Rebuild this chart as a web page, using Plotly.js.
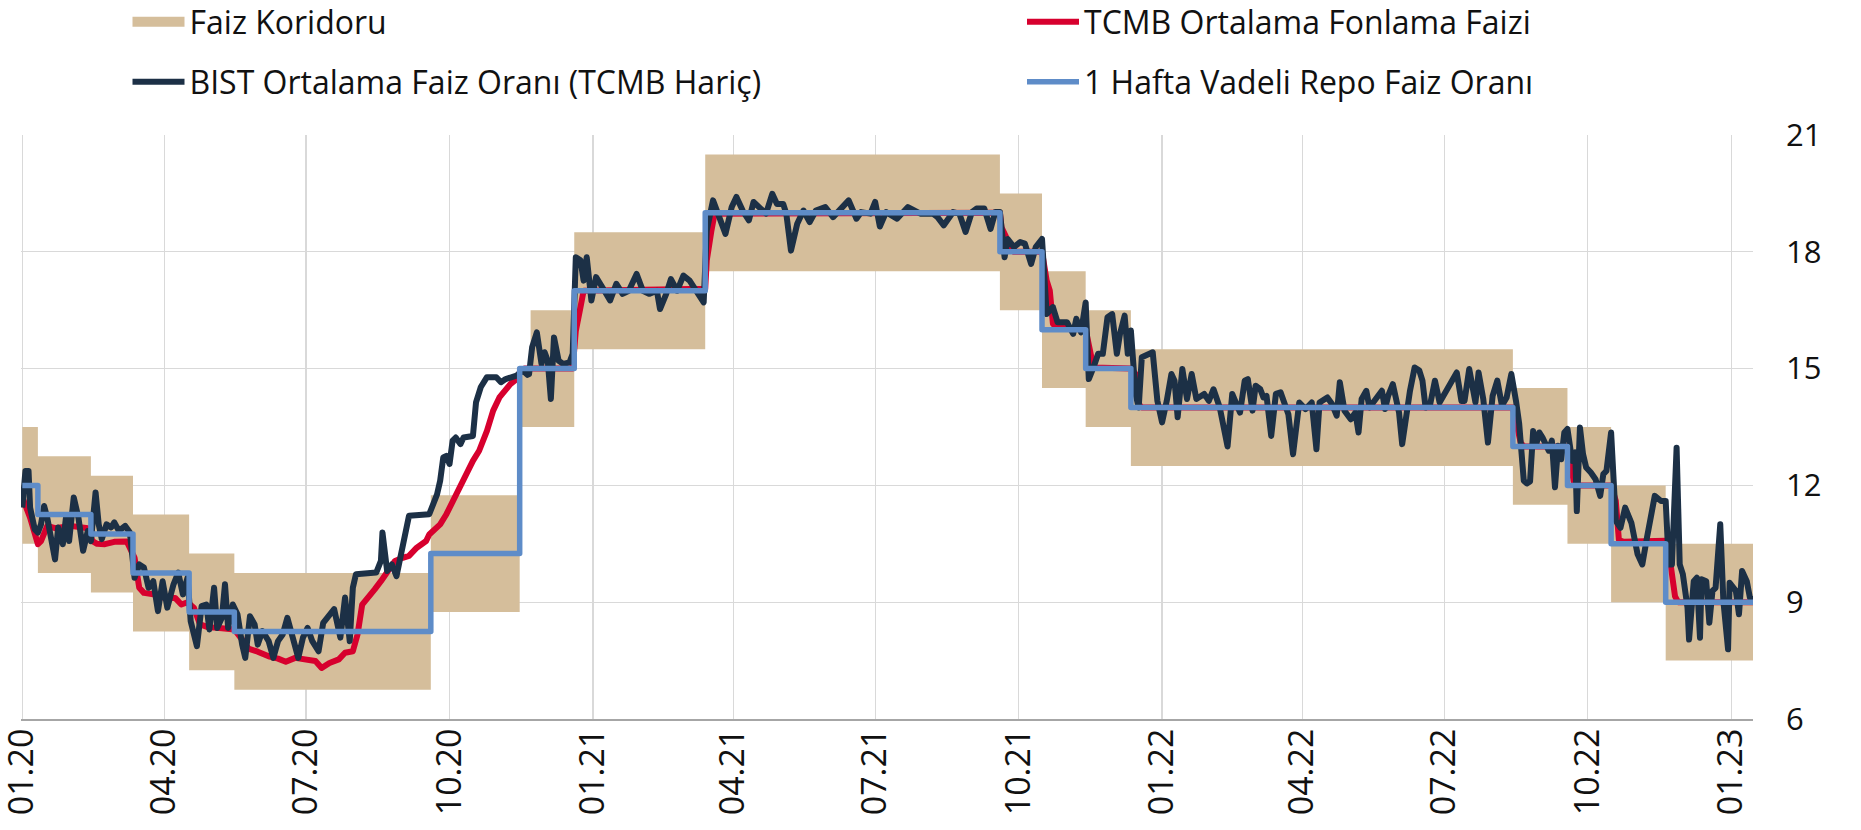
<!DOCTYPE html>
<html>
<head>
<meta charset="utf-8">
<script src="https://cdn.plot.ly/plotly-3.0.1.min.js"></script>
<style>
html,body{margin:0;padding:0;background:#fff;}
#chart{width:1861px;height:830px;}
.scatterlayer path.js-line{stroke-linejoin:round;}
</style>
</head>
<body>
<div id="chart"></div>
<script>
// ---------- DATA ----------
const seriesNames = ['Faiz Koridoru', 'TCMB Ortalama Fonlama Faizi', 'BIST Ortalama Faiz Oranı (TCMB Hariç)', '1 Hafta Vadeli Repo Faiz Oranı'];

const corridorDates = ['2020-01-01','2020-01-11','2020-02-14','2020-03-12','2020-04-17','2020-05-16','2020-09-19','2020-11-15','2020-11-22','2020-12-20','2021-03-14','2021-09-19','2021-10-16','2021-11-13','2021-12-12','2022-08-14','2022-09-18','2022-10-16','2022-11-20','2023-01-15'];
const corridorLow  = [10.5, 9.75, 9.25, 8.25, 7.25, 6.75, 8.75, 13.5, 13.5, 15.5, 17.5, 16.5, 14.5, 13.5, 12.5, 11.5, 10.5, 9, 7.5, 7.5];
const corridorHigh = [13.5, 12.75, 12.25, 11.25, 10.25, 9.75, 11.75, 15, 16.5, 18.5, 20.5, 19.5, 17.5, 16.5, 15.5, 14.5, 13.5, 12, 10.5, 10.5];

const policyDates = ['2020-01-01','2020-01-11','2020-02-14','2020-03-12','2020-04-17','2020-05-16','2020-09-19','2020-11-15','2020-12-20','2021-03-14','2021-09-19','2021-10-16','2021-11-13','2021-12-12','2022-08-14','2022-09-18','2022-10-16','2022-11-20','2023-01-15'];
const policyRate  = [12, 11.25, 10.75, 9.75, 8.75, 8.25, 10.25, 15, 17, 19, 18, 16, 15, 14, 13, 12, 10.5, 9, 9];

const tcmbDates = ['2020-01-01','2020-01-06','2020-01-11','2020-01-13','2020-01-17','2020-01-22','2020-02-01','2020-02-07','2020-02-12','2020-02-15','2020-02-18','2020-02-23','2020-02-29','2020-03-08','2020-03-13','2020-03-16','2020-03-19','2020-03-26','2020-04-01','2020-04-08','2020-04-12','2020-04-16','2020-04-20','2020-04-24','2020-04-29','2020-05-08','2020-05-16','2020-05-21','2020-05-25','2020-05-31','2020-06-07','2020-06-13','2020-06-18','2020-06-24','2020-06-30','2020-07-07','2020-07-11','2020-07-16','2020-07-22','2020-07-26','2020-07-31','2020-08-03','2020-08-06','2020-08-09','2020-08-14','2020-08-18','2020-08-22','2020-08-27','2020-09-01','2020-09-05','2020-09-10','2020-09-16','2020-09-18','2020-09-25','2020-09-29','2020-10-03','2020-10-10','2020-10-16','2020-10-20','2020-10-25','2020-10-29','2020-11-02','2020-11-09','2020-11-13','2020-11-15','2020-11-18','2020-12-19','2020-12-21','2020-12-24','2020-12-26','2021-03-14','2021-03-15','2021-03-18','2021-03-20','2021-09-19','2021-09-20','2021-09-23','2021-09-25','2021-09-28','2021-10-16','2021-10-19','2021-10-21','2021-10-23','2021-10-25','2021-11-13','2021-11-15','2021-11-18','2021-12-12','2021-12-15','2021-12-17','2021-12-19','2022-08-14','2022-08-17','2022-08-19','2022-08-21','2022-09-18','2022-09-20','2022-09-22','2022-09-24','2022-10-16','2022-10-19','2022-10-21','2022-10-24','2022-11-20','2022-11-22','2022-11-24','2022-11-26','2022-11-28','2023-01-15'];
const tcmbRate = [11.7,11.17,10.49,10.57,10.96,10.9,10.96,10.93,10.9,10.57,10.5,10.49,10.55,10.56,10.14,9.37,9.24,9.2,9.11,9.11,8.94,9.0,8.86,8.43,8.36,8.33,8.3,8.04,7.81,7.73,7.61,7.55,7.47,7.57,7.55,7.49,7.31,7.44,7.53,7.7,7.74,8.17,8.94,9.11,9.33,9.54,9.76,10.06,10.14,10.19,10.4,10.57,10.74,11.0,11.26,11.6,12.2,12.63,12.89,13.4,13.92,14.26,14.6,14.73,14.9,15.0,15.0,15.97,16.58,17.0,17.05,17.78,18.55,18.98,19.0,18.63,18.38,18.12,18.0,18.0,17.26,17.0,16.15,16.06,16.0,15.55,15.03,15.0,14.86,14.09,14.0,14.0,13.5,13.1,13.0,13.0,12.6,12.1,12.0,12.0,11.6,10.6,10.55,10.58,10.3,9.6,9.15,9.0,9.0];

const bistDates = ['2020-01-01','2020-01-03','2020-01-05','2020-01-06','2020-01-09','2020-01-11','2020-01-13','2020-01-15','2020-01-17','2020-01-20','2020-01-22','2020-01-24','2020-01-27','2020-01-29','2020-01-31','2020-02-03','2020-02-06','2020-02-09','2020-02-12','2020-02-14','2020-02-17','2020-02-19','2020-02-21','2020-02-24','2020-02-27','2020-02-29','2020-03-03','2020-03-07','2020-03-10','2020-03-13','2020-03-16','2020-03-19','2020-03-22','2020-03-25','2020-03-28','2020-03-31','2020-04-03','2020-04-07','2020-04-10','2020-04-13','2020-04-16','2020-04-18','2020-04-22','2020-04-25','2020-04-28','2020-04-30','2020-05-03','2020-05-05','2020-05-08','2020-05-10','2020-05-12','2020-05-15','2020-05-18','2020-05-21','2020-05-23','2020-05-26','2020-05-29','2020-05-31','2020-06-03','2020-06-07','2020-06-10','2020-06-13','2020-06-16','2020-06-19','2020-06-23','2020-06-26','2020-06-29','2020-07-02','2020-07-05','2020-07-09','2020-07-12','2020-07-16','2020-07-19','2020-07-23','2020-07-26','2020-07-29','2020-07-31','2020-08-02','2020-08-10','2020-08-15','2020-08-18','2020-08-19','2020-08-22','2020-08-25','2020-08-28','2020-08-31','2020-09-03','2020-09-05','2020-09-18','2020-09-21','2020-09-23','2020-09-25','2020-09-27','2020-09-29','2020-10-01','2020-10-03','2020-10-05','2020-10-08','2020-10-10','2020-10-16','2020-10-18','2020-10-21','2020-10-25','2020-10-31','2020-11-03','2020-11-06','2020-11-13','2020-11-17','2020-11-20','2020-11-21','2020-11-23','2020-11-26','2020-11-29','2020-12-01','2020-12-03','2020-12-05','2020-12-07','2020-12-10','2020-12-13','2020-12-17','2020-12-19','2020-12-21','2020-12-24','2020-12-26','2020-12-28','2020-12-31','2021-01-03','2021-01-07','2021-01-12','2021-01-16','2021-01-20','2021-01-24','2021-01-29','2021-02-02','2021-02-06','2021-02-11','2021-02-13','2021-02-17','2021-02-20','2021-02-24','2021-02-28','2021-03-04','2021-03-08','2021-03-13','2021-03-15','2021-03-19','2021-03-23','2021-03-27','2021-03-31','2021-04-03','2021-04-07','2021-04-11','2021-04-14','2021-04-18','2021-04-22','2021-04-26','2021-04-29','2021-05-03','2021-05-05','2021-05-08','2021-05-12','2021-05-16','2021-05-20','2021-05-24','2021-05-30','2021-06-04','2021-06-08','2021-06-12','2021-06-14','2021-06-19','2021-06-22','2021-06-28','2021-07-01','2021-07-04','2021-07-08','2021-07-15','2021-07-22','2021-07-30','2021-08-07','2021-08-10','2021-08-14','2021-08-20','2021-08-24','2021-08-28','2021-09-01','2021-09-04','2021-09-09','2021-09-13','2021-09-16','2021-09-19','2021-09-22','2021-09-24','2021-09-28','2021-10-02','2021-10-05','2021-10-09','2021-10-12','2021-10-16','2021-10-19','2021-10-23','2021-10-26','2021-11-01','2021-11-05','2021-11-07','2021-11-10','2021-11-13','2021-11-15','2021-11-18','2021-11-21','2021-11-24','2021-11-27','2021-11-30','2021-12-03','2021-12-05','2021-12-08','2021-12-10','2021-12-12','2021-12-15','2021-12-17','2021-12-19','2021-12-26','2021-12-29','2022-01-01','2022-01-04','2022-01-07','2022-01-09','2022-01-11','2022-01-14','2022-01-17','2022-01-20','2022-01-23','2022-01-28','2022-01-31','2022-02-03','2022-02-07','2022-02-12','2022-02-15','2022-02-20','2022-02-23','2022-02-25','2022-02-28','2022-03-02','2022-03-05','2022-03-07','2022-03-09','2022-03-12','2022-03-15','2022-03-18','2022-03-21','2022-03-23','2022-03-26','2022-03-30','2022-04-03','2022-04-07','2022-04-10','2022-04-12','2022-04-17','2022-04-20','2022-04-23','2022-04-25','2022-04-28','2022-05-02','2022-05-05','2022-05-07','2022-05-09','2022-05-12','2022-05-14','2022-05-19','2022-05-22','2022-05-24','2022-05-26','2022-05-29','2022-06-02','2022-06-04','2022-06-07','2022-06-09','2022-06-12','2022-06-15','2022-06-17','2022-06-19','2022-06-22','2022-06-25','2022-06-28','2022-07-03','2022-07-06','2022-07-09','2022-07-12','2022-07-14','2022-07-17','2022-07-19','2022-07-21','2022-07-23','2022-07-26','2022-07-29','2022-08-01','2022-08-04','2022-08-07','2022-08-10','2022-08-13','2022-08-16','2022-08-18','2022-08-21','2022-08-23','2022-08-25','2022-08-27','2022-08-29','2022-08-31','2022-09-02','2022-09-06','2022-09-08','2022-09-10','2022-09-12','2022-09-14','2022-09-16','2022-09-18','2022-09-21','2022-09-23','2022-09-24','2022-09-26','2022-09-28','2022-09-30','2022-10-03','2022-10-06','2022-10-09','2022-10-11','2022-10-13','2022-10-16','2022-10-19','2022-10-22','2022-10-25','2022-10-27','2022-10-29','2022-11-02','2022-11-05','2022-11-08','2022-11-11','2022-11-13','2022-11-17','2022-11-20','2022-11-22','2022-11-24','2022-11-27','2022-11-29','2022-12-01','2022-12-04','2022-12-05','2022-12-08','2022-12-10','2022-12-12','2022-12-13','2022-12-16','2022-12-18','2022-12-20','2022-12-22','2022-12-25','2022-12-27','2022-12-30','2022-12-31','2023-01-04','2023-01-06','2023-01-08','2023-01-11','2023-01-13','2023-01-15'];
const bistRate = [11.43,12.37,12.37,11.43,10.87,10.79,11.0,11.47,11.17,10.57,10.1,10.92,10.49,11.17,10.57,11.69,11.17,10.32,10.83,10.57,11.82,11.0,10.62,11.0,10.92,11.05,10.83,10.96,10.79,9.63,9.97,9.89,9.37,9.54,8.77,9.54,8.86,9.46,9.76,9.2,9.63,8.51,7.87,8.9,8.94,8.3,9.37,8.34,8.6,9.46,8.34,8.94,8.69,7.91,7.57,8.64,8.43,7.91,8.26,8.0,7.57,8.0,8.17,8.6,8.0,7.57,8.09,8.34,8.0,7.74,8.47,8.69,8.82,8.09,9.12,8.0,9.37,9.72,9.73,9.76,10.06,10.79,9.8,9.97,9.67,10.32,10.92,11.22,11.26,11.6,11.77,12.12,12.72,12.76,12.55,13.15,13.23,13.06,13.23,13.27,14.13,14.52,14.78,14.78,14.65,14.73,14.82,14.95,14.84,14.86,15.55,15.93,15.12,15.42,15.2,14.22,15.8,15.2,15.12,15.16,15.38,17.86,17.78,17.26,17.86,16.75,17.35,17.09,16.75,17.18,16.92,17.0,17.43,17.0,16.92,17.0,16.53,16.92,17.3,17.0,17.39,17.26,17.0,16.7,18.55,19.32,18.89,18.46,19.15,19.41,19.06,18.81,19.28,19.15,18.98,19.49,19.23,19.23,18.98,18.03,18.72,19.06,18.76,19.06,19.15,18.89,19.06,19.28,19.32,18.85,19.02,18.98,19.28,18.65,19.02,18.85,19.15,18.98,18.98,18.89,18.68,19.02,18.98,18.51,19.02,19.11,19.11,18.59,19.02,19.02,17.86,18.33,18.12,18.25,18.21,17.69,18.12,18.33,16.4,16.58,16.19,16.19,15.89,16.28,15.93,16.7,14.73,15.03,15.38,15.38,16.32,16.4,15.38,15.89,16.36,15.38,15.98,14.35,14.0,15.29,15.42,14.17,13.62,14.17,14.86,14.69,13.75,14.99,14.22,14.86,14.22,14.35,14.17,14.47,14.0,13.0,14.35,13.87,14.69,14.73,13.92,14.56,14.47,14.26,14.3,13.27,14.35,14.39,14.09,13.83,12.8,14.13,13.96,14.13,12.93,14.13,14.26,14.09,13.79,14.65,13.92,13.7,13.87,13.36,14.22,14.43,14.0,14.26,14.43,13.96,14.3,14.6,13.87,13.06,14.0,14.43,15.03,14.95,14.69,14.0,14.09,14.69,14.13,14.47,14.69,14.9,14.17,14.17,14.99,14.43,14.13,14.9,14.22,13.1,14.3,14.69,14.05,14.26,14.86,14.17,13.6,12.12,12.05,12.1,13.4,13.06,13.36,13.23,12.89,13.15,11.95,13.02,12.67,13.36,13.45,12.63,12.85,11.34,13.49,12.8,12.46,12.33,12.16,11.73,12.29,12.37,13.36,11.09,10.91,11.43,11.26,11.04,10.23,9.97,10.66,11.43,11.73,11.6,11.6,9.97,9.97,12.97,9.97,9.72,8.86,8.04,9.54,9.63,8.09,9.59,9.54,8.47,9.29,9.37,11.0,9.03,7.79,9.5,9.29,8.69,9.8,9.54,9.12,9.07];

const xRange = ['2019-12-31 04:00', '2023-01-15'];
const yTicks = [6, 9, 12, 15, 18, 21];

// ---------- STYLE ----------
const TAN = '#D5BE9B', RED = '#D7002E', NAVY = '#1C3046', BLUE = '#5E8CC8';
const FONT = '"Open Sans", "Noto Sans", sans-serif';

const traces = [
  {type:'scatter', x:corridorDates, y:corridorLow, mode:'lines', line:{shape:'hv', width:0, color:TAN}, showlegend:false, hoverinfo:'skip'},
  {type:'scatter', x:corridorDates, y:corridorHigh, mode:'lines', line:{shape:'hv', width:0, color:TAN}, fill:'tonexty', fillcolor:TAN, showlegend:false, hoverinfo:'skip'},
  {type:'scatter', x:tcmbDates, y:tcmbRate, mode:'lines', name:seriesNames[1], line:{color:RED, width:6}, legend:'legend2'},
  {type:'scatter', x:bistDates, y:bistRate, mode:'lines', name:seriesNames[2], line:{color:NAVY, width:6}, legend:'legend3'},
  {type:'scatter', x:policyDates, y:policyRate, mode:'lines', name:seriesNames[3], line:{color:BLUE, width:5.5, shape:'hv'}, legend:'legend4'},
  {type:'scatter', x:[null], y:[null], mode:'lines', name:seriesNames[0], line:{color:TAN, width:20}, legend:'legend', hoverinfo:'skip'}
];

function leg(xpx, ypx) {
  return {x: xpx/1861, xref:'container', xanchor:'left', y: 1 - ypx/830, yref:'container', yanchor:'middle',
          orientation:'v', itemwidth:52, bgcolor:'rgba(0,0,0,0)', borderwidth:0,
          font:{family:FONT, size:32, color:'#111'}};
}

const layout = {
  width:1861, height:830,
  margin:{l:21, r:108, t:135, b:111, autoexpand:false},
  paper_bgcolor:'#ffffff', plot_bgcolor:'#ffffff',
  font:{family:FONT, size:31, color:'#111'},
  showlegend:true,
  xaxis:{type:'date', range:xRange, tick0:'2020-01-01', dtick:'M3', tickformat:'%m.%y', tickangle:-90,
         showgrid:true, gridcolor:'#D9D9D9', gridwidth:1.3, showline:true, linecolor:'#A6A6A6', linewidth:2,
         ticks:'', ticklabelstandoff:-6, ticklabeloverflow:'allow', tickfont:{family:FONT, size:34, color:'#111'}, zeroline:false},
  yaxis:{side:'right', range:[6,21], tickmode:'array', tickvals:yTicks, ticktext:yTicks.map(String),
         showgrid:true, gridcolor:'#D9D9D9', gridwidth:1.3, zeroline:false, showline:false,
         ticks:'', ticklabelstandoff:32, tickfont:{family:FONT, size:31, color:'#111'}},
  legend: leg(127.5, 22),
  legend2: leg(1022, 22),
  legend3: leg(127.5, 82),
  legend4: leg(1022, 82)
};

Plotly.newPlot('chart', traces, layout, {displayModeBar:false, staticPlot:true});
</script>
</body>
</html>
